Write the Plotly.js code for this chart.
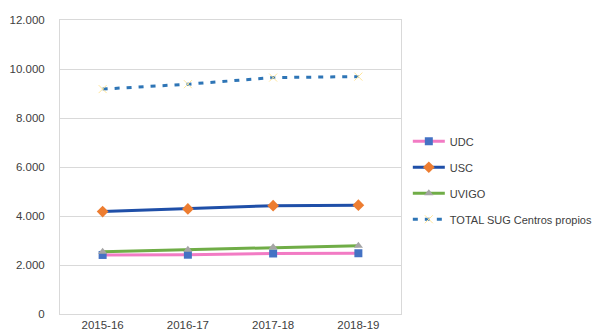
<!DOCTYPE html>
<html>
<head>
<meta charset="utf-8">
<script src="https://cdn.plot.ly/plotly-3.0.1.min.js"></script>
<style>html,body{margin:0;padding:0;background:#fff;}#chart{width:603px;height:336px;}</style>
</head>
<body>
<div id="chart"></div>
<script>
const categories = ["2015-16", "2016-17", "2017-18", "2018-19"];
const udc = [2410, 2420, 2470, 2480];
const usc = [4180, 4290, 4420, 4440];
const uvigo = [2540, 2620, 2720, 2790];
const total = [9180, 9380, 9650, 9690];
const seriesNames = ["UDC", "USC", "UVIGO", "TOTAL SUG Centros propios"];
const yTicks = [0, 2000, 4000, 6000, 8000, 10000, 12000];
const yTickLabels = ["0", "2.000", "4.000", "6.000", "8.000", "10.000", "12.000"];

const traces = [
  {x: categories, y: udc, name: seriesNames[0], legendgroup: "a", mode: "lines+markers",
   line: {color: "#F27BC4", width: 3}, marker: {symbol: "square", size: 8, color: "#4472C4"}},
  {x: categories, y: usc, name: seriesNames[1], legendgroup: "b", mode: "lines+markers",
   line: {color: "#1F4FA8", width: 3}, marker: {symbol: "diamond", size: 9, color: "#ED7D31"}},
  {x: categories, y: uvigo, name: seriesNames[2], legendgroup: "c", mode: "lines+markers",
   line: {color: "#70AD47", width: 3}, marker: {symbol: "triangle-up", size: 8, color: "#A5A5A5"}},
  {x: categories, y: total, name: seriesNames[3], legendgroup: "d", mode: "lines+markers",
   line: {color: "#2E75B6", width: 3, dash: "5px,7px"}, marker: {symbol: "x-thin-open", size: 8, color: "#FFE699", line: {width: 1, color: "#FFE699"}}}
];

const layout = {
  width: 603, height: 336,
  margin: {l: 60, r: 202, t: 20, b: 22, autoexpand: false},
  paper_bgcolor: "#fff", plot_bgcolor: "#fff",
  font: {family: "Liberation Sans, Arial, sans-serif", size: 11.5, color: "#404040"},
  showlegend: true,
  legend: {x: 1.02, y: 0.455, xanchor: "left", yanchor: "middle", font: {size: 11, color: "#404040"},
           tracegroupgap: 7, itemwidth: 32, bgcolor: "rgba(0,0,0,0)"},
  xaxis: {type: "category", range: [-0.5, 3.5], showgrid: false, zeroline: false,
          showline: true, linecolor: "#D9D9D9", linewidth: 1, mirror: true,
          ticks: "", tickfont: {size: 11.5, color: "#404040"}, fixedrange: true},
  yaxis: {range: [0, 12000], tickvals: yTicks, ticktext: yTickLabels, showgrid: true,
          gridcolor: "#D9D9D9", gridwidth: 1, zeroline: false, showline: true,
          linecolor: "#D9D9D9", linewidth: 1, mirror: true, ticks: "",
          tickfont: {size: 11.5, color: "#404040"}, ticklabelstandoff: 12, fixedrange: true}
};

Plotly.newPlot("chart", traces, layout, {displayModeBar: false, staticPlot: true});
</script>
</body>
</html>
